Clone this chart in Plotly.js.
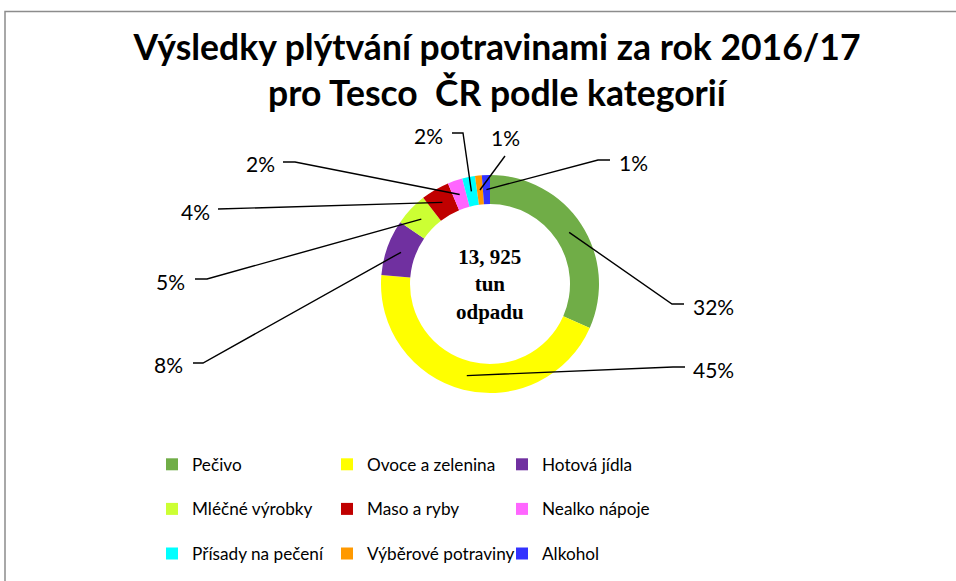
<!DOCTYPE html>
<html><head><meta charset="utf-8">
<script src="https://cdn.plot.ly/plotly-3.0.1.min.js"></script>
<style>html,body{margin:0;padding:0;background:#fff}</style>
</head><body><div id="chart" style="width:956px;height:581px"></div>
<script>
// ---- data ----
const categories = ['Pečivo','Ovoce a zelenina','Hotová jídla','Mléčné výrobky','Maso a ryby','Nealko nápoje','Přísady na pečení','Výběrové potraviny','Alkohol'];
const shares = [31.6, 44.7, 8.3, 4.9, 4.2, 2.2, 1.9, 1.0, 1.2];
const colors = ['#70AD47','#FFFF00','#7030A0','#CCFF33','#C00000','#FF66FF','#00FFFF','#FF9900','#3333FF'];
const centerLines = ['13, 925','tun','odpadu'];
const titleLines = ['Výsledky plýtvání potravinami za rok 2016/17','pro Tesco\u00a0 ČR podle kategorií'];

// ---- layout (pixels) ----
const W = 956, H = 581;
const ML = 150, MR = 230;           // margins (paper area used to constrain legend width)
const PW = W - ML - MR;
const CX = 490, CY = 284, R = 109, HOLE = 0.734, ANCHOR_R = 94.5;
const labelPos   = [[713,306],[713,369],[168,364],[170,282],[195,211],[260,164],[428,135],[505,138],[633,162]];
const lineEndPos = [[684,304],[685,367],[193,363],[195,279],[218,209],[283,162],[452,133],[505,156],[610,160]];
const elbowPos   = [[672,304],[673,367],[203,363],[207,279],[218,209],[295,162],[463,133],[505,156],[598,160]];

const px = x => (x - ML) / PW, py = y => 1 - y / H;
const total = shares.reduce((a,b)=>a+b,0);
let cum = 0;
const shapes = [];
const annotations = [];
shares.forEach((v,i) => {
  const th = (cum + v/2) / total * 2 * Math.PI;
  cum += v;
  const ax = CX + ANCHOR_R * Math.sin(th), ay = CY - ANCHOR_R * Math.cos(th);
  shapes.push({type:'path', xref:'paper', yref:'paper',
    path:`M${px(lineEndPos[i][0])},${py(lineEndPos[i][1])} L${px(elbowPos[i][0])},${py(elbowPos[i][1])} L${px(ax)},${py(ay)}`,
    line:{color:'#000', width:1.4}});
  annotations.push({xref:'paper', yref:'paper', x:px(labelPos[i][0]), y:py(labelPos[i][1]),
    text: Math.round(v/total*100) + '%', showarrow:false, xanchor:'center', yanchor:'middle',
    font:{family:'Lato', size:21, color:'#000'}});
});
annotations.push({xref:'paper', yref:'paper', x:px(CX), y:py(CY), showarrow:false,
  text: centerLines.join('<br>'), font:{family:'Liberation Serif', size:21, color:'#000', weight:'bold'}});
shapes.push({type:'rect', xref:'paper', yref:'paper', x0:px(5), x1:px(960), y0:py(585), y1:py(11.5),
  line:{color:'#8c8c8c', width:1.5}, fillcolor:'rgba(0,0,0,0)'});

const trace = {
  type:'pie', labels: categories.map(c => '<span style="font-size:17.2px;baseline-shift:6px">' + c + '</span>'),
  values: shares, sort:false, direction:'clockwise', rotation:0, hole:HOLE,
  marker:{colors: colors, line:{width:0}}, textinfo:'none', hoverinfo:'label+percent',
  domain:{x:[px(CX-R), px(CX+R)], y:[py(CY+R), py(CY-R)]}
};

const layout = {
  width:W, height:H, margin:{l:ML, r:MR, t:0, b:0, autoexpand:false}, paper_bgcolor:'#fff',
  title:{text: titleLines.join('<br>'), font:{family:'Lato', size:35.5, color:'#000', weight:'bold'},
    x:px(497), xanchor:'center', xref:'paper', y:py(60), yanchor:'top', yref:'container'},
  showlegend:true,
  legend:{orientation:'h', x:2/PW, xanchor:'left', y:py(437), yanchor:'top', entrywidth:130,
    font:{family:'Lato', size:32, color:'#000'}, traceorder:'normal', bgcolor:'rgba(0,0,0,0)'},
  shapes: shapes, annotations: annotations
};
Plotly.newPlot('chart', [trace], layout, {displayModeBar:false, staticPlot:true});
</script></body></html>
